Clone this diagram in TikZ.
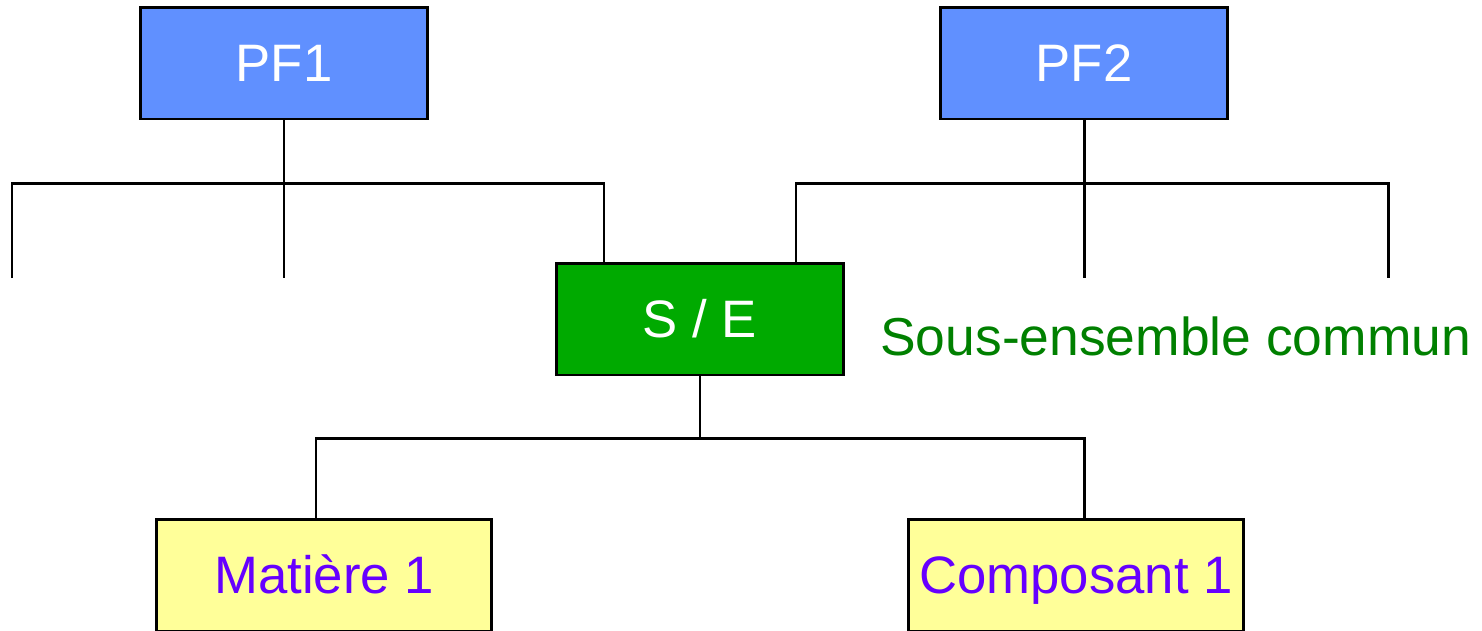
\documentclass[tikz,border=0pt]{standalone}
\usepackage{fontspec}
\setmainfont{Liberation Sans}
\usepackage{xcolor}
\usetikzlibrary{positioning,calc}

\definecolor{pfblue}{HTML}{6090FF}
\definecolor{segreen}{HTML}{00AA00}
\definecolor{labgreen}{HTML}{008000}
\definecolor{leafyellow}{HTML}{FFFF99}
\definecolor{leafpurple}{HTML}{6600FF}

\tikzset{
    box/.style={draw=black, line width=1.7pt, minimum width=5.76cm, minimum height=2.24cm,
        inner sep=0pt, font=\fontsize{30}{36}\selectfont, text height=21.5pt, text depth=0pt},
    pfbox/.style={box, fill=pfblue, text=white},
    sebox/.style={box, fill=segreen, text=white},
    leafbox/.style={box, fill=leafyellow, text=leafpurple, minimum width=6.72cm},
    link/.style={line width=1.7pt}
}

\begin{document}
\begin{tikzpicture}[x=0.02cm,y=-0.02cm]
    \useasboundingbox (0,0) rectangle (1482,630);
    \clip (0,0) rectangle (1482,630);

    % top level
    \node[pfbox] (pf1) at (284,63) {PF1};
    \node[pfbox] (pf2) at (1084,63) {PF2};

    % common sub-assembly
    \node[sebox] (se) at (700,319) {S / E};
    \node[anchor=base west, inner sep=0pt, text=labgreen, font=\fontsize{30.4}{36}\selectfont]
        (selabel) at (880,355) {Sous-ensemble commun};

    % leaves
    \node[leafbox] (mat) at (324,575) {Matière 1};
    \node[leafbox] (comp) at (1076,575) {Composant 1};

    % junction points
    \coordinate (b1l) at (12,183);
    \coordinate (b1r) at (604,183);
    \coordinate (e1l) at (12,278);
    \coordinate (e1m) at (284,278);
    \coordinate (b2l) at (796,183);
    \coordinate (b2r) at (1388,183);
    \coordinate (e2m) at (1084,278);
    \coordinate (e2r) at (1388,278);
    \coordinate (b3l) at (316,438);
    \coordinate (b3r) at (1084,438);

    % PF1 tree
    \draw[link] (pf1.south) -- (pf1.south |- b1l);
    \draw[link] (e1l) -- (b1l) -- (b1r) -- (se.north -| b1r);
    \draw[link] (pf1.south |- b1l) -- (e1m);

    % PF2 tree
    \draw[link] (pf2.south) -- (pf2.south |- b2l);
    \draw[link] (se.north -| b2l) -- (b2l) -- (b2r) -- (e2r);
    \draw[link] (pf2.south |- b2l) -- (e2m);

    % S/E tree
    \draw[link] (se.south) -- (se.south |- b3l);
    \draw[link] (mat.north -| b3l) -- (b3l) -- (b3r) -- (comp.north -| b3r);
\end{tikzpicture}
\end{document}
